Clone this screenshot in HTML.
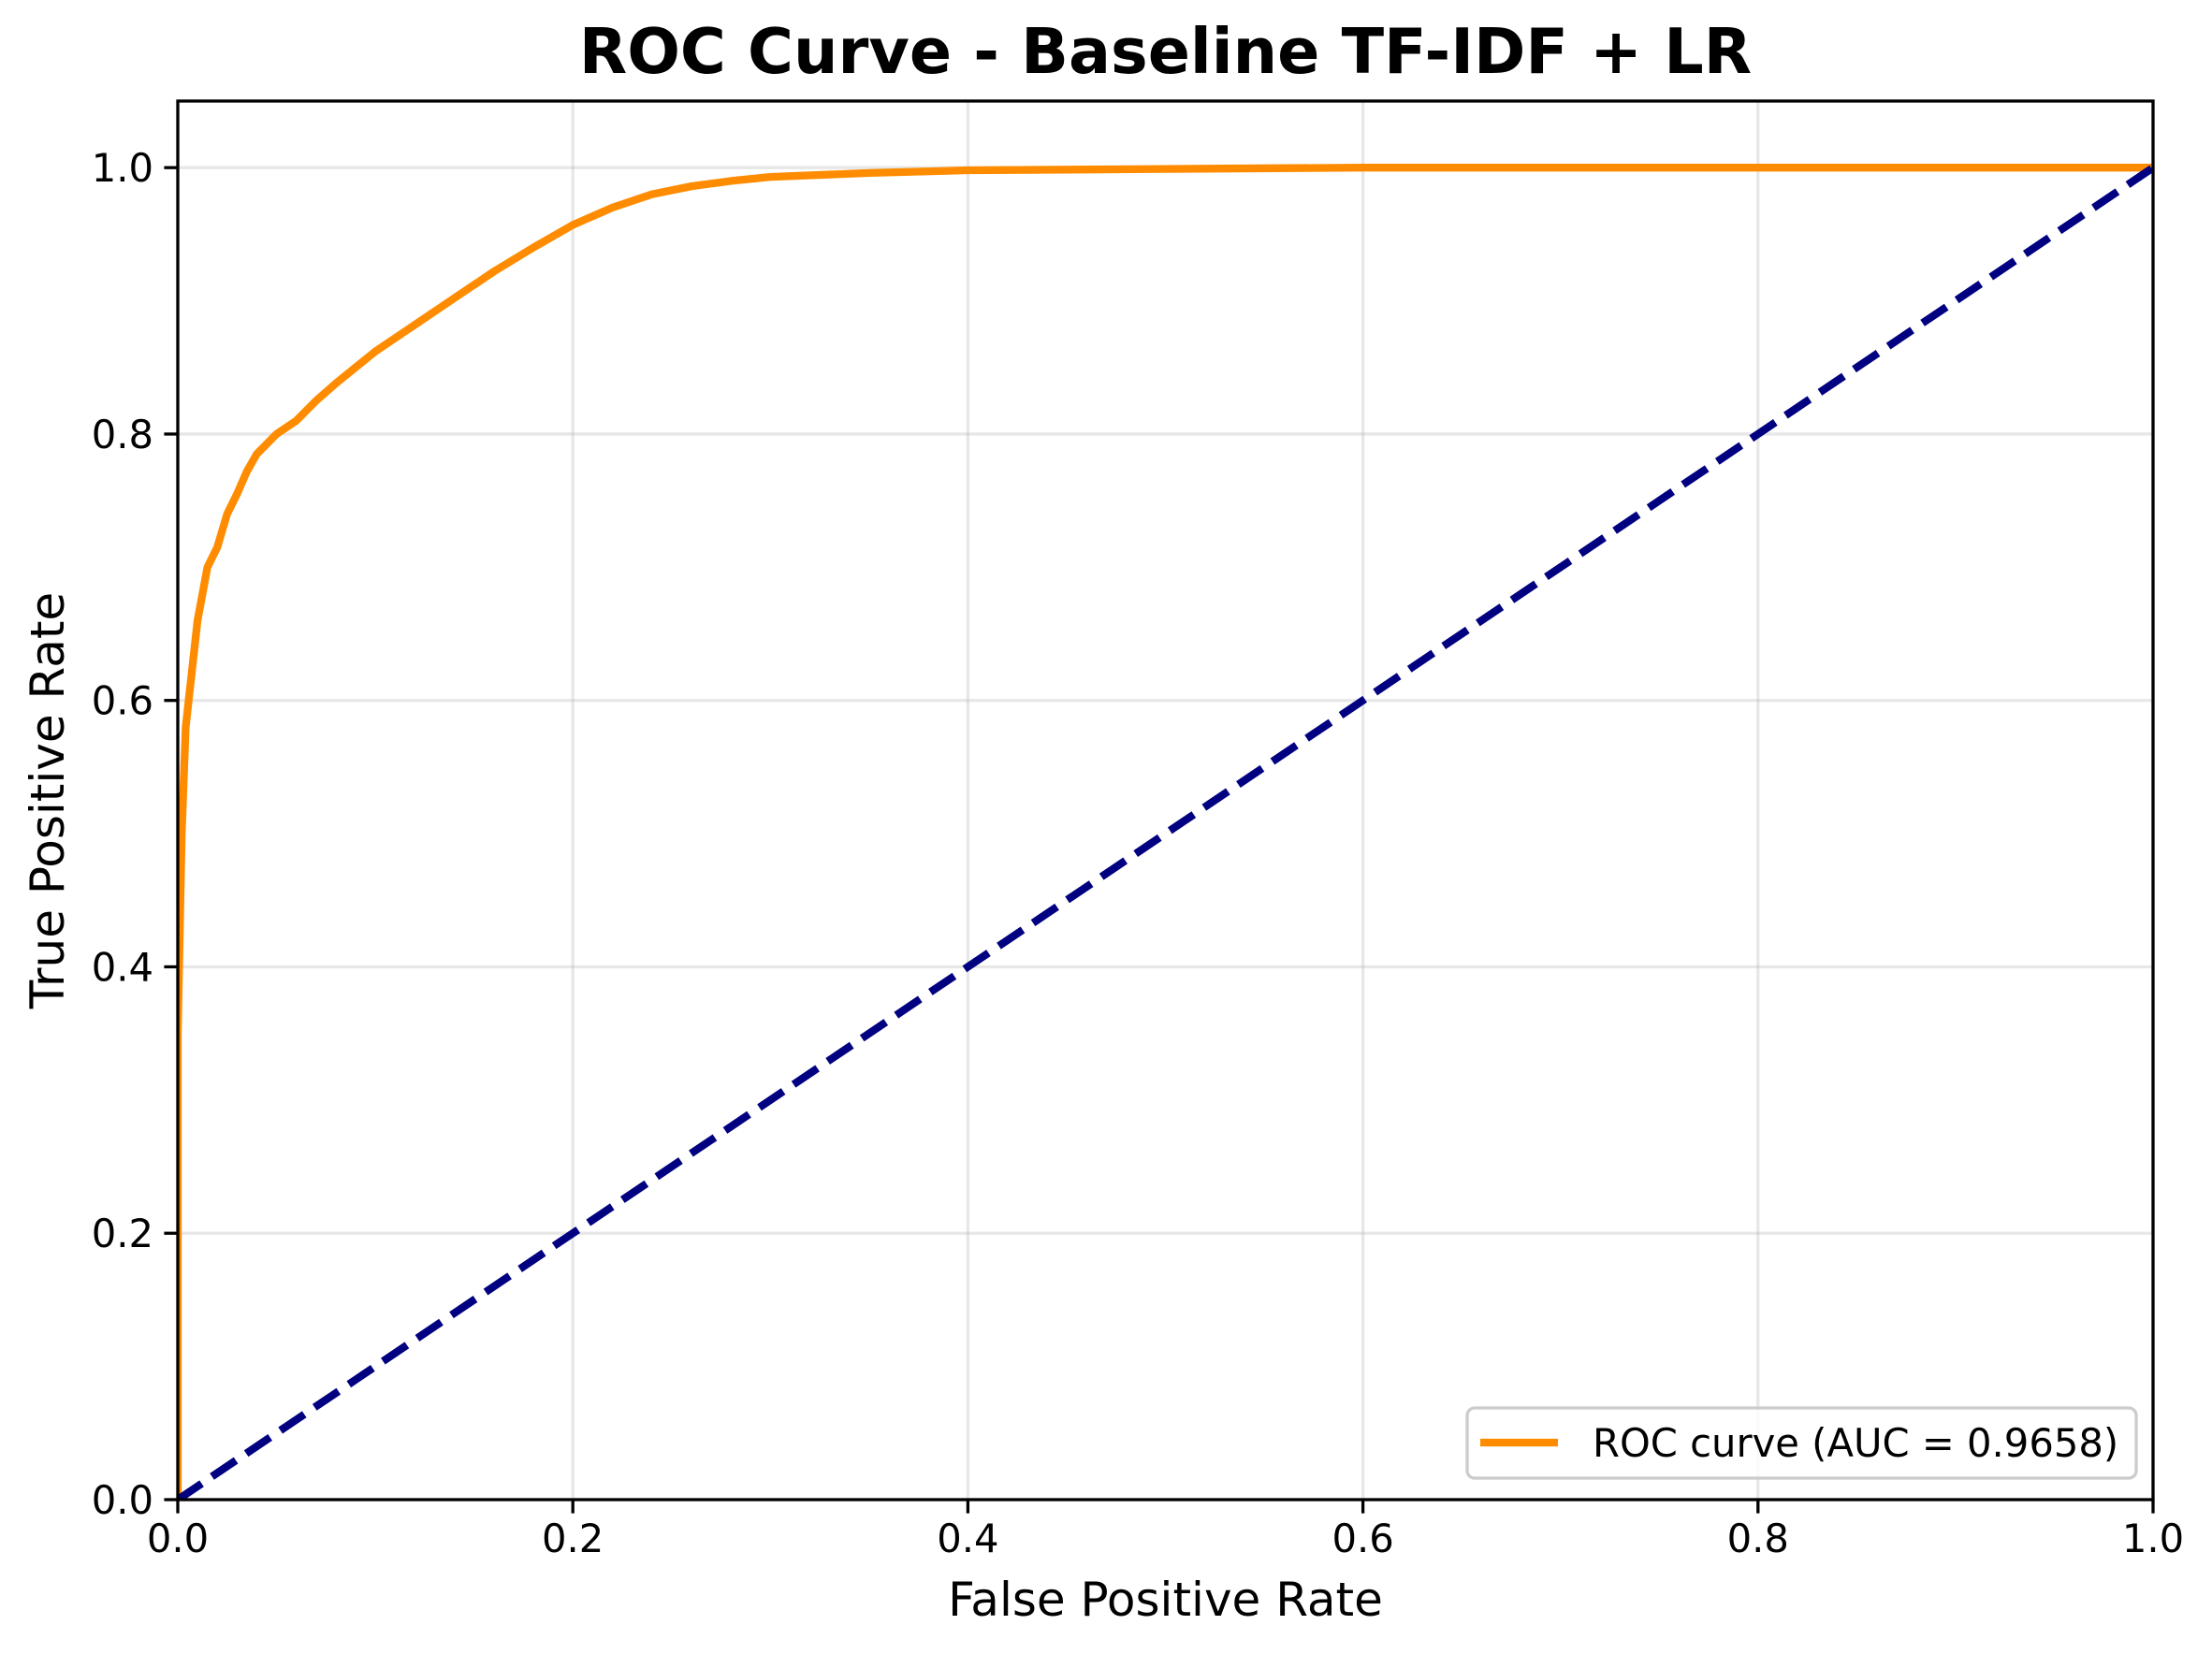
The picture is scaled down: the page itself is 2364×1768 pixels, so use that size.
<!DOCTYPE html>
<html><head><meta charset="utf-8"><style>
html,body{margin:0;padding:0;background:#fff;}
svg{display:block;font-family:"DejaVu Sans","Liberation Sans",sans-serif;}
</style></head><body>
<svg id="chart" width="2364" height="1768" viewBox="0 0 2364 1768" xmlns="http://www.w3.org/2000/svg"></svg>
<script>
const fprValues=[0,0,0.002,0.004,0.007,0.01,0.015,0.02,0.025,0.03,0.035,0.04,0.05,0.06,0.07,0.08,0.09,0.1,0.12,0.14,0.16,0.18,0.2,0.22,0.24,0.26,0.28,0.3,0.35,0.4,0.5,0.6,1];
const tprValues=[0,0.35,0.5,0.58,0.62,0.66,0.70,0.715,0.74,0.755,0.772,0.785,0.80,0.81,0.825,0.838,0.85,0.862,0.882,0.902,0.922,0.94,0.957,0.97,0.98,0.986,0.99,0.993,0.996,0.998,0.999,1.0,1.0];
const diagX=[0,1];
const diagY=[0,1];
const xTicks=[0,0.2,0.4,0.6,0.8,1.0];
const yTicks=[0,0.2,0.4,0.6,0.8,1.0];
const xTickLabels=["0.0","0.2","0.4","0.6","0.8","1.0"];
const yTickLabels=["0.0","0.2","0.4","0.6","0.8","1.0"];
const legendLabel="ROC curve (AUC = 0.9658)";

const L=190,R=2301,T=108,B=1603,YMAX=1.05;
const sx=v=>L+v*(R-L);
const sy=v=>B-v/YMAX*(B-T);
const NS="http://www.w3.org/2000/svg";
const svg=document.getElementById('chart');
function mk(tag,attrs,parent){const e=document.createElementNS(NS,tag);for(const k in attrs)e.setAttribute(k,attrs[k]);(parent||svg).appendChild(e);return e;}

xTicks.forEach((t,i)=>{
  const g=mk('line',{x1:sx(t),x2:sx(t),y1:T,y2:B,stroke:'#b0b0b0','stroke-opacity':0.3,'stroke-width':3.3});
  
  
});
yTicks.forEach((t,i)=>{
  const g=mk('line',{x1:L,x2:R,y1:sy(t),y2:sy(t),stroke:'#b0b0b0','stroke-opacity':0.3,'stroke-width':3.3});
  
  
});

const clip=mk('clipPath',{id:'clip'});mk('rect',{x:L,y:T,width:R-L,height:B-T},clip);
const roc=mk('polyline',{points:fprValues.map((v,i)=>sx(v)+','+sy(tprValues[i])).join(' '),fill:'none',stroke:'#ff8c00','stroke-width':8.3,'stroke-linejoin':'round','clip-path':'url(#clip)'});


const diag=mk('polyline',{points:diagX.map((v,i)=>sx(v)+','+sy(diagY[i])).join(' '),fill:'none',stroke:'#000080','stroke-width':8.3,'stroke-dasharray':'30.8 13.3','clip-path':'url(#clip)'});



const fr=mk('rect',{x:L,y:T,width:R-L,height:B-T,fill:'none',stroke:'#000','stroke-width':3.3});



xTicks.forEach((t,i)=>{
  const tk=mk('line',{x1:sx(t),x2:sx(t),y1:B,y2:B+14.6,stroke:'#000','stroke-width':3.3});
  
  
  const tx=mk('text',{x:sx(t),y:B+56,'font-size':41.7,'text-anchor':'middle',fill:'#000'});
  tx.textContent=xTickLabels[i];
  
  
});
yTicks.forEach((t,i)=>{
  const tk=mk('line',{x1:L-14.6,x2:L,y1:sy(t),y2:sy(t),stroke:'#000','stroke-width':3.3});
  
  
  const tx=mk('text',{x:L-26,y:sy(t)+15,'font-size':41.7,'text-anchor':'end',fill:'#000'});
  tx.textContent=yTickLabels[i];
  
  
});

const title=mk('text',{x:(L+R)/2,y:78,'font-size':66.7,'font-weight':'bold','text-anchor':'middle',fill:'#000'});
title.textContent='ROC Curve - Baseline TF-IDF + LR';


const xl=mk('text',{x:(L+R)/2,y:1727,'font-size':50,'text-anchor':'middle',fill:'#000'});
xl.textContent='False Positive Rate';


const yl=mk('text',{x:0,y:0,'font-size':50,'text-anchor':'middle',fill:'#000',transform:'translate(68,'+((T+B)/2)+') rotate(-90)'});
yl.textContent='True Positive Rate';



const lg=mk('g',{});


mk('rect',{x:1568,y:1505,width:715,height:75,rx:8,fill:'#fff','fill-opacity':0.8,stroke:'#cccccc','stroke-width':3.3},lg);
const ll=mk('line',{x1:1582,x2:1665,y1:1542,y2:1542,stroke:'#ff8c00','stroke-width':8.3},lg);


const lt=mk('text',{x:1702,y:1557,'font-size':41.7,fill:'#000'},lg);
lt.textContent=legendLabel;


</script>
</body></html>
